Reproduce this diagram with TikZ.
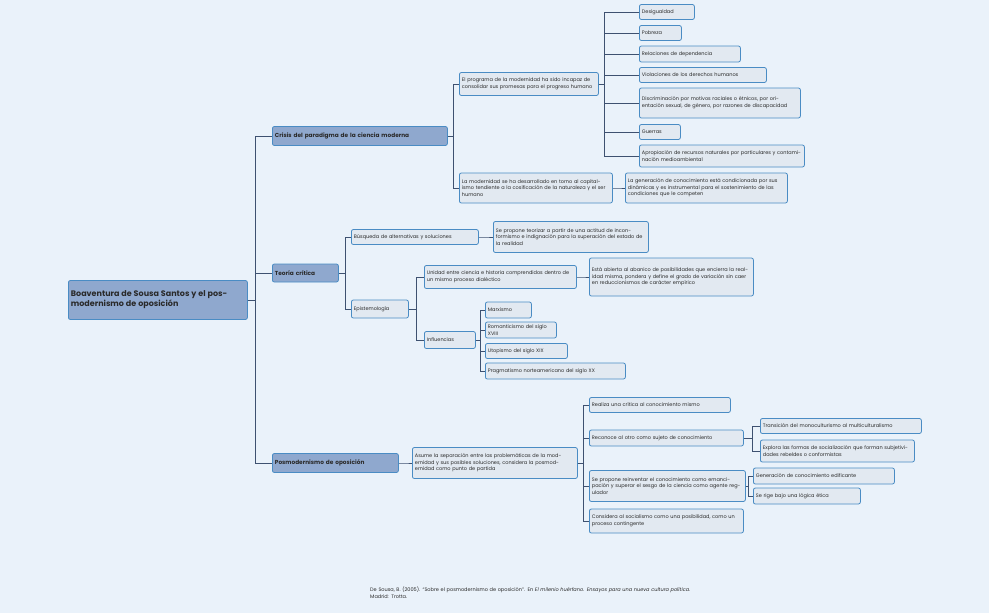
\documentclass[tikz,border=0pt]{standalone}
\usepackage{fontspec}
\setmainfont{Poppins}
\begin{document}
\begin{tikzpicture}[x=1pt,y=-1pt,
 bx/.style={draw=boxb,fill=boxf,rounded corners=2pt,line width=0.8pt,anchor=west,align=left,inner sep=2.5pt,font=\fontsize{5}{6.6}\selectfont,text=txt},
 l1/.style={bx,fill=lvl,draw=boxb,font=\fontsize{5.8}{7}\bfseries\selectfont},
 cn/.style={draw=ln,line width=1pt}]
\definecolor{bg}{HTML}{EAF2FA}\definecolor{boxf}{HTML}{E2E9F1}\definecolor{boxb}{HTML}{4A8CC4}
\definecolor{lvl}{HTML}{8FA8CE}\definecolor{ln}{HTML}{3E5170}\definecolor{txt}{HTML}{2A2A2A}
\fill[bg] (0,0) rectangle (989,613);
\useasboundingbox (0,0) rectangle (989,613);
\newcommand{\bnode}[6][bx]{\node[#1,minimum width=#4,text width=#4-5,minimum height=#5] (#2) at #3 {#6};}
\bnode[l1]{root}{(68,300)}{179}{39}{\centering\fontsize{8}{10}\selectfont Boaventura de Sousa Santos y el posmodernismo de oposición}
\bnode[l1]{cr}{(272,136)}{175}{19}{Crisis del paradigma de la ciencia moderna}
\bnode[l1]{te}{(272,273)}{66}{18}{Teoría crítica}
\bnode[l1]{po}{(272,463)}{126}{19}{Posmodernismo de oposición}
\bnode{a1}{(459,84)}{139}{23}{El programa de la modernidad ha sido incapaz de consolidar sus promesas para el progreso humano}
\bnode{a2}{(459,188)}{153}{30}{La modernidad se ha desarrollado en torno al capitalismo tendiente a la cosificación de la naturaleza y el ser humano}
\bnode{d1}{(639,12)}{55}{15}{Desigualdad}
\bnode{d2}{(639,33)}{42}{15}{Pobreza}
\bnode{d3}{(639,54)}{101}{16}{Relaciones de dependencia}
\bnode{d4}{(639,75)}{127}{15}{Violaciones de los derechos humanos}
\bnode{d5}{(639,103)}{161}{30}{Discriminación por motivos raciales o étnicos, por orientación sexual, de género, por razones de discapacidad}
\bnode{d6}{(639,132)}{41}{15}{Guerras}
\bnode{d7}{(639,156)}{165}{22}{Apropiación de recursos naturales por particulares y contaminación medioambiental}
\bnode{b1}{(625,188)}{162}{30}{La generación de conocimiento está condicionada por sus dinámicas y es instrumental para el sostenimiento de las condiciones que le competen}
\bnode{t1}{(351,237)}{127}{15}{Búsqueda de alternativas y soluciones}
\bnode{t2}{(351,309)}{57}{18}{Epistemología}
\bnode{t1a}{(493,237)}{155}{31}{Se propone teorizar a partir de una actitud de inconformismo e indignación para la superación del estado de la realidad}
\bnode{e1}{(424,277)}{152}{23}{Unidad entre ciencia e historia comprendidos dentro de un mismo proceso dialéctico}
\bnode{e2}{(424,340)}{51}{17}{Influencias}
\bnode{e1a}{(589,277)}{164}{38}{Está abierta al abanico de posibilidades que encierra la realidad misma, pondera y define el grado de variación sin caer en reduccionismos de carácter empírico}
\bnode{i1}{(485,310)}{46}{16}{Marxismo}
\bnode{i2}{(485,330)}{71}{16}{Romanticismo del siglo XVIII}
\bnode{i3}{(485,351)}{82}{15}{Utopismo del siglo XIX}
\bnode{i4}{(485,371)}{140}{16}{Pragmatismo norteamericano del siglo XX}
\bnode{p1}{(412,463)}{165}{31}{Asume la separación entre las problemáticas de la modernidad y sus posibles soluciones, considera la posmodernidad como punto de partida}
\bnode{q1}{(589,405)}{141}{15}{Realiza una crítica al conocimiento mismo}
\bnode{q2}{(589,438)}{154}{16}{Reconoce al otro como sujeto de conocimiento}
\bnode{q3}{(589,486)}{156}{31}{Se propone reinventar el conocimiento como emancipación y superar el sesgo de la ciencia como agente regulador}
\bnode{q4}{(589,521)}{154}{24}{Considera al socialismo como una posibilidad, como un proceso contingente}
\bnode{r1}{(760,426)}{161}{15}{Transición del monoculturismo al multiculturalismo}
\bnode{r2}{(760,451)}{154}{22}{Explora las formas de socialización que forman subjetividades rebeldes o conformistas}
\bnode{s1}{(753,476)}{141}{16}{Generación de conocimiento edificante}
\bnode{s2}{(753,496)}{107}{16}{Se rige bajo una lógica ética}
\node[anchor=north west,align=left,text width=400,inner sep=0,font=\fontsize{5}{6.5}\selectfont,text=txt] (cite) at (370,587) {De Sousa, B. (2005). “Sobre el posmodernismo de oposición”. En \textit{El milenio huérfano. Ensayos para una nueva cultura política}.\\ Madrid: Trotta.};
\newcommand{\conn}[3]{\foreach \c in {#3} \draw[cn] (#1.east) -- ++(#2,0) |- (\c.west);}
\conn{root}{8}{cr,te,po}
\conn{cr}{6}{a1,a2}
\conn{a1}{6}{d1,d2,d3,d4,d5,d6,d7}
\conn{a2}{6}{b1}
\conn{te}{7}{t1,t2}
\conn{t1}{7}{t1a}
\conn{t2}{8}{e1,e2}
\conn{e1}{6}{e1a}
\conn{e2}{5}{i1,i2,i3,i4}
\conn{po}{7}{p1}
\conn{p1}{6}{q1,q2,q3,q4}
\conn{q2}{9}{r1,r2}
\conn{q3}{3}{s1,s2}
\end{tikzpicture}
\end{document}
